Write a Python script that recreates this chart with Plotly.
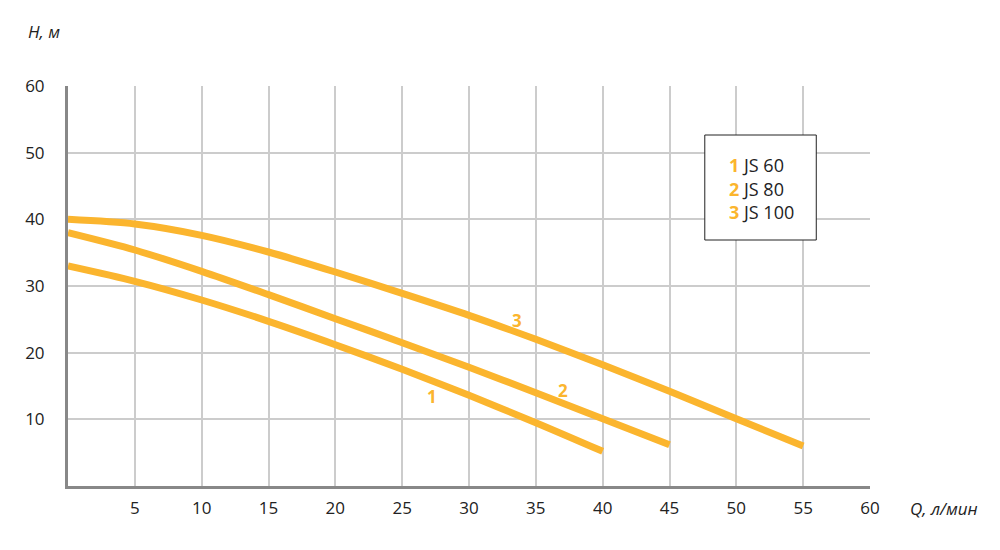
import plotly.graph_objects as go

# flow Q, l/min and head H, m
q_js60 = [0, 5, 10, 15, 20, 25, 30, 35, 40]
h_js60 = [33.0, 30.7, 27.9, 24.7, 21.2, 17.5, 13.6, 9.5, 5.2]

q_js80 = [0, 5, 10, 15, 20, 25, 30, 35, 40, 45]
h_js80 = [38.0, 35.4, 32.2, 28.7, 25.1, 21.5, 17.8, 14.0, 10.1, 6.2]

q_js100 = [0, 5, 10, 15, 20, 25, 30, 35, 40, 45, 50, 55]
h_js100 = [40.0, 39.3, 37.6, 35.1, 32.1, 28.9, 25.6, 22.0, 18.2, 14.2, 10.1, 6.0]

series = [("1", "JS 60", q_js60, h_js60, 27.2, 13.4),
          ("2", "JS 80", q_js80, h_js80, 37.0, 14.4),
          ("3", "JS 100", q_js100, h_js100, 33.6, 24.8)]

x_ticks = [5, 10, 15, 20, 25, 30, 35, 40, 45, 50, 55, 60]
y_ticks = [10, 20, 30, 40, 50, 60]

orange = "#fbb52e"
font = "Open Sans"

fig = go.Figure()
for num, name, q, h, lx, ly in series:
    fig.add_trace(go.Scatter(x=q, y=h, mode="lines", name=name,
                             line=dict(color=orange, width=7, shape="spline", smoothing=0.8),
                             showlegend=False))
    fig.add_annotation(x=lx, y=ly, text="<b>%s</b>" % num, showarrow=False,
                       font=dict(family=font, size=17, color=orange))

# legend box
fig.add_shape(type="rect", xref="paper", yref="paper",
              x0=0.794, x1=0.933, y0=0.615, y1=0.8775,
              line=dict(color="#222", width=1), fillcolor="white", layer="above")
for i, (num, name, q, h, lx, ly) in enumerate(series):
    fig.add_annotation(xref="paper", yref="paper", x=0.822, y=0.8025 - i * 0.059,
                       xanchor="left", yanchor="middle", showarrow=False,
                       text="<span style='color:%s'><b>%s</b></span> %s" % (orange, num, name),
                       font=dict(family=font, size=18, color="#222"))

# axis titles
fig.add_annotation(xref="paper", yref="paper", x=-0.052, y=1.1375, xanchor="left",
                   yanchor="middle", showarrow=False, text="<i>H, м</i>",
                   font=dict(family=font, size=17, color="#222"))
fig.add_annotation(xref="paper", yref="paper", x=1.048, y=-0.055, xanchor="left",
                   yanchor="middle", showarrow=False, text="<i>Q, л/мин</i>",
                   font=dict(family=font, size=17, color="#222"))

fig.update_layout(
    width=1000, height=550,
    margin=dict(l=60, r=138, t=78, b=72),
    plot_bgcolor="white", paper_bgcolor="white",
    font=dict(family=font, size=17, color="#222"),
)
fig.update_xaxes(range=[0, 60], tickvals=x_ticks, showgrid=True, gridcolor="#cccccc",
                 gridwidth=1.5, showline=True, linecolor="#888888", linewidth=3,
                 zeroline=False, ticks="", ticklabelstandoff=5)
fig.update_yaxes(range=[0, 60], tickvals=y_ticks, showgrid=True, gridcolor="#cccccc",
                 gridwidth=1.5, showline=True, linecolor="#888888", linewidth=3,
                 zeroline=False, ticks="", ticklabelstandoff=17)

fig.write_html("out.html")
